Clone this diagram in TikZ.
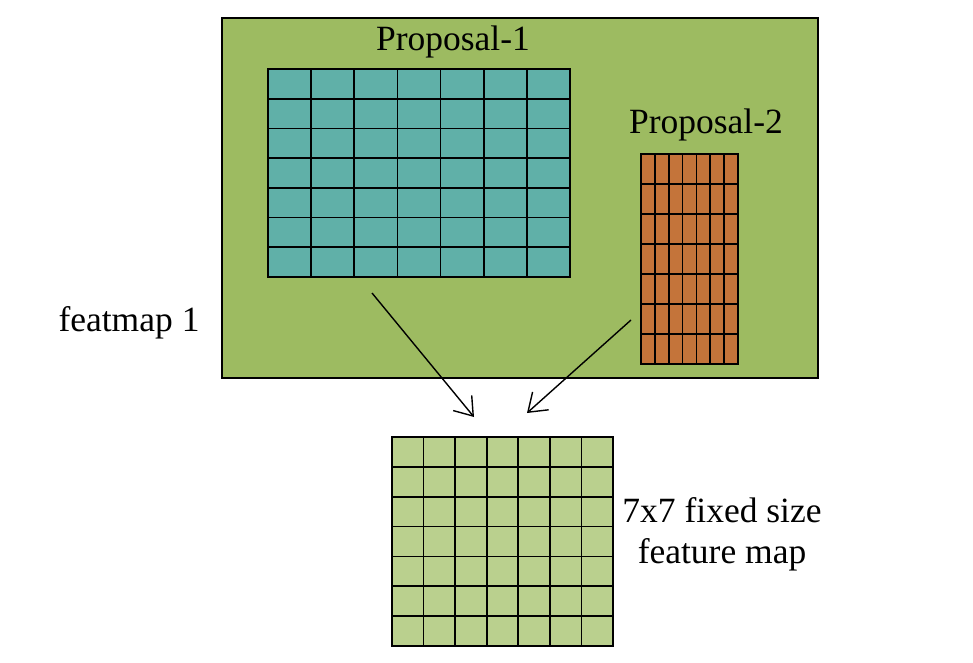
\documentclass[tikz,border=0pt]{standalone}
\usepackage{fontspec}
\setmainfont{Liberation Serif}
\newfontfamily\timesf{Liberation Serif}
\usetikzlibrary{arrows.meta,calc}
\definecolor{bggreen}{RGB}{157,187,97}
\definecolor{tealc}{RGB}{96,176,168}
\definecolor{orangec}{RGB}{196,116,58}
\definecolor{lightg}{RGB}{186,208,142}
\tikzset{
  box/.style={draw=black, line width=1.3pt, inner sep=0pt, outer sep=0pt, anchor=north west},
  gridline/.style={draw=black, line width=1.6pt},
  lbl/.style={font=\timesf\fontsize{35.5}{42}\selectfont, inner sep=0pt, anchor=base},
  conn/.style={draw=black, line width=1.4pt, -{Straight Barb[length=17pt,width=24pt,line width=1.4pt]}}
}
\newcommand{\mygrid}[1]{%
  \foreach \i in {1,...,6} {
    \draw[gridline] ($(#1.north west)!\i/7!(#1.north east)$) -- ($(#1.south west)!\i/7!(#1.south east)$);
    \draw[gridline] ($(#1.north west)!\i/7!(#1.south west)$) -- ($(#1.north east)!\i/7!(#1.south east)$);
  }
  \draw[gridline] (#1.north west) rectangle (#1.south east);
}
\begin{document}
\begin{tikzpicture}[x=1pt,y=-1pt]
\useasboundingbox (0,0) rectangle (973,662);
\node[box, fill=bggreen, minimum width=596pt, minimum height=360pt] (bg) at (222,18) {};
\node[box, fill=tealc, minimum width=302pt, minimum height=208pt] (p1) at (268,69) {};
\mygrid{p1}
\node[box, fill=orangec, minimum width=97pt, minimum height=210pt] (p2) at (641,154) {};
\mygrid{p2}
\node[box, fill=lightg, minimum width=221pt, minimum height=209pt] (out) at (392,437) {};
\mygrid{out}
\node[lbl] (t1) at (453,50) {Proposal-1};
\node[lbl] (t2) at (706,133) {Proposal-2};
\node[lbl] (t3) at (129,331) {featmap 1};
\node[lbl] (t4) at (722,522) {7x7 fixed size};
\node[lbl] (t5) at (722,563) {feature map};
\coordinate (a1s) at (372,293);
\coordinate (a1e) at (474,417);
\coordinate (a2s) at (631,320);
\coordinate (a2e) at (527,413);
\draw[conn] (a1s) -- (a1e);
\draw[conn] (a2s) -- (a2e);
\end{tikzpicture}
\end{document}
